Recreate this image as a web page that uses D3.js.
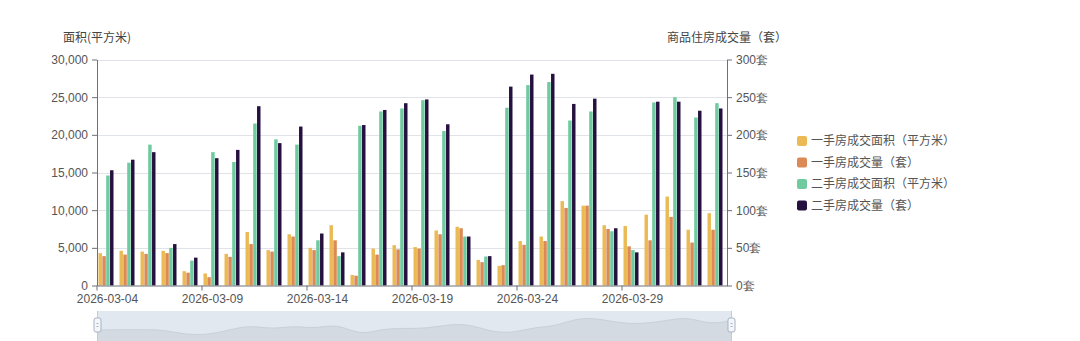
<!DOCTYPE html>
<html>
<head>
<meta charset="utf-8">
<script src="https://cdn.jsdelivr.net/npm/d3@7/dist/d3.min.js"></script>
<style>
  html, body { margin: 0; padding: 0; background: #fff; }
  svg { display: block; font-family: "Noto Sans CJK SC", "Noto Sans", sans-serif; }
</style>
</head>
<body>
<div id="chart"></div>
<script>
// dates (category axis)
const dates = ['2026-03-04','2026-03-05','2026-03-06','2026-03-07','2026-03-08','2026-03-09','2026-03-10',
  '2026-03-11','2026-03-12','2026-03-13','2026-03-14','2026-03-15','2026-03-16','2026-03-17','2026-03-18',
  '2026-03-19','2026-03-20','2026-03-21','2026-03-22','2026-03-23','2026-03-24','2026-03-25','2026-03-26',
  '2026-03-27','2026-03-28','2026-03-29','2026-03-30','2026-03-31','2026-04-01','2026-04-02'];

// 一手房成交面积 (m2, left axis)
const newArea = [4300, 4600, 4500, 4600, 1900, 1600, 4200, 7100, 4700, 6800, 5000, 8000, 1400, 4900, 5350,
  5100, 7300, 7800, 3400, 2600, 5900, 6500, 11200, 10600, 8000, 7900, 9400, 11800, 7400, 9600];
// 一手房成交量 (套, right axis)
const newCount = [39, 41, 42, 43, 17, 11, 38, 55, 45, 65, 47, 60, 13, 41, 48,
  49, 68, 76, 31, 27, 54, 59, 103, 106, 75, 52, 60, 91, 57, 74];
// 二手房成交面积 (m2, left axis)
const usedArea = [14600, 16300, 18700, 5000, 3300, 17700, 16400, 21500, 19400, 18700, 6000, 3900, 21200, 23100, 23500,
  24600, 20500, 6500, 3850, 23600, 26600, 27000, 21900, 23100, 7200, 4700, 24300, 25000, 22300, 24200];
// 二手房成交量 (套, right axis)
const usedCount = [153, 167, 177, 55, 37, 169, 180, 238, 189, 211, 69, 44, 213, 233, 242,
  247, 214, 65, 39, 264, 280, 281, 241, 248, 76, 44, 244, 244, 232, 235];

const seriesNames = ['一手房成交面积（平方米）', '一手房成交量（套）', '二手房成交面积（平方米）', '二手房成交量（套）'];
const seriesColors = ['#ebba55', '#dc8a55', '#6fcaa0', '#25103f'];
const seriesAxis = ['left', 'right', 'left', 'right'];
const seriesData = [newArea, newCount, usedArea, usedCount];

const leftTicks = [0, 5000, 10000, 15000, 20000, 25000, 30000];
const rightTicks = [0, 50, 100, 150, 200, 250, 300];

const W = 1080, H = 341;
const plotL = 97, plotR = 727, plotT = 59.5, plotB = 285.5;

const svg = d3.select("#chart").append("svg")
  .attr("width", W)
  .attr("height", H);

const x = d3.scaleBand().domain(dates).range([plotL, plotR]).padding(0);
const x1 = d3.scaleBand().domain(d3.range(4)).range([1.5, 16.5]).paddingInner(0.1);
const yL = d3.scaleLinear().domain([0, 30000]).range([plotB, plotT]);
const yR = d3.scaleLinear().domain([0, 300]).range([plotB, plotT]);
const yOf = i => seriesAxis[i] === 'left' ? yL : yR;

// grid lines
svg.append("g")
  .selectAll("line")
  .data(leftTicks.slice(1))
  .enter().append("line")
  .attr("x1", plotL).attr("x2", plotR)
  .attr("y1", d => Math.round(yL(d)) + 0.5)
  .attr("y2", d => Math.round(yL(d)) + 0.5)
  .attr("stroke", "#e0e3e8");

// bars
const groups = svg.append("g")
  .selectAll("g")
  .data(dates)
  .enter().append("g")
  .attr("transform", d => `translate(${x(d)},0)`);

groups.selectAll("rect")
  .data((d, j) => seriesData.map((arr, i) => ({ i, v: arr[j] })))
  .enter().append("rect")
  .attr("x", d => x1(d.i))
  .attr("width", x1.bandwidth())
  .attr("y", d => yOf(d.i)(d.v))
  .attr("height", d => plotB - yOf(d.i)(d.v))
  .attr("fill", d => seriesColors[d.i]);

// left axis
const axisColor = "#6e7079";
const gL = svg.append("g")
  .attr("transform", `translate(${plotL},0)`)
  .call(d3.axisLeft(yL).tickValues(leftTicks).tickFormat(d3.format(",")).tickSize(5).tickSizeOuter(0));
gL.select(".domain").attr("stroke", axisColor);
gL.selectAll(".tick line").attr("stroke", axisColor);
gL.selectAll(".tick text").attr("fill", "#555").attr("font-size", 12).attr("x", -9);

// right axis
const gR = svg.append("g")
  .attr("transform", `translate(${plotR},0)`)
  .call(d3.axisRight(yR).tickValues(rightTicks).tickFormat(d => d + "套").tickSize(5).tickSizeOuter(0));
gR.select(".domain").attr("stroke", axisColor);
gR.selectAll(".tick line").attr("stroke", axisColor);
gR.selectAll(".tick text").attr("fill", "#555").attr("font-size", 12).attr("x", 9);

// bottom axis
const labelDates = dates.filter((d, i) => i % 5 === 0);
const gB = svg.append("g")
  .attr("transform", `translate(0,${plotB})`)
  .call(d3.axisBottom(x).tickValues(labelDates).tickSize(0).tickSizeOuter(0));
gB.select(".domain").attr("stroke", axisColor);
gB.selectAll(".tick text").attr("fill", "#555").attr("font-size", 12).attr("dy", "1.2em");
gB.selectAll(".tickmark")
  .data(labelDates)
  .enter().append("line")
  .attr("x1", d => x(d)).attr("x2", d => x(d))
  .attr("y1", 0).attr("y2", 5)
  .attr("stroke", axisColor);

// axis names
svg.append("text")
  .attr("x", plotL).attr("y", 42)
  .attr("text-anchor", "middle")
  .attr("font-size", 12).attr("fill", "#444")
  .text("面积(平方米)");
svg.append("text")
  .attr("x", plotR).attr("y", 42)
  .attr("text-anchor", "middle")
  .attr("font-size", 12).attr("fill", "#444")
  .text("商品住房成交量（套）");

// legend
const legend = svg.append("g")
  .selectAll("g")
  .data(seriesNames)
  .enter().append("g")
  .attr("transform", (d, i) => `translate(797,${141 + i * 21.5})`);
legend.append("rect")
  .attr("x", 0).attr("y", -5)
  .attr("width", 10).attr("height", 10)
  .attr("rx", 2)
  .attr("fill", (d, i) => seriesColors[i]);
legend.append("text")
  .attr("x", 14).attr("y", 0)
  .attr("dy", "0.35em")
  .attr("font-size", 12).attr("fill", "#555")
  .text(d => d);

// data zoom slider (shadow of first series)
const sLeft = 97, sRight = 731, sTop = 311, sBottom = 341;
const xs = d3.scalePoint().domain(dates).range([sLeft, sRight]);
const [mn, mx] = d3.extent(newArea);
const off = (mx - mn) * 0.3;
const ys = d3.scaleLinear().domain([mn - off, mx + off]).range([sBottom, sTop]);

svg.append("rect")
  .attr("x", sLeft).attr("y", sTop)
  .attr("width", sRight - sLeft).attr("height", sBottom - sTop)
  .attr("fill", "#e2e8ef");

svg.append("path")
  .datum(newArea)
  .attr("d", d3.area()
    .x((d, i) => xs(dates[i]))
    .y0(sBottom)
    .y1(d => ys(d))
    .curve(d3.curveBasis))
  .attr("fill", "#d3dae2");
svg.append("path")
  .datum(newArea)
  .attr("d", d3.line()
    .x((d, i) => xs(dates[i]))
    .y(d => ys(d))
    .curve(d3.curveBasis))
  .attr("fill", "none")
  .attr("stroke", "#c9d0d9");

[sLeft, sRight].forEach(hx => {
  svg.append("line")
    .attr("x1", hx + 0.5).attr("x2", hx + 0.5)
    .attr("y1", sTop).attr("y2", sBottom)
    .attr("stroke", "#c3cbd8");
  svg.append("rect")
    .attr("x", hx - 3).attr("y", 318)
    .attr("width", 7).attr("height", 14)
    .attr("rx", 2)
    .attr("fill", "#f4f6f9")
    .attr("stroke", "#a8b3c4");
  svg.append("line")
    .attr("x1", hx - 0.5).attr("x2", hx + 1.5)
    .attr("y1", 323.5).attr("y2", 323.5)
    .attr("stroke", "#a8b3c4");
  svg.append("line")
    .attr("x1", hx - 0.5).attr("x2", hx + 1.5)
    .attr("y1", 326.5).attr("y2", 326.5)
    .attr("stroke", "#a8b3c4");
});
</script>
</body>
</html>
